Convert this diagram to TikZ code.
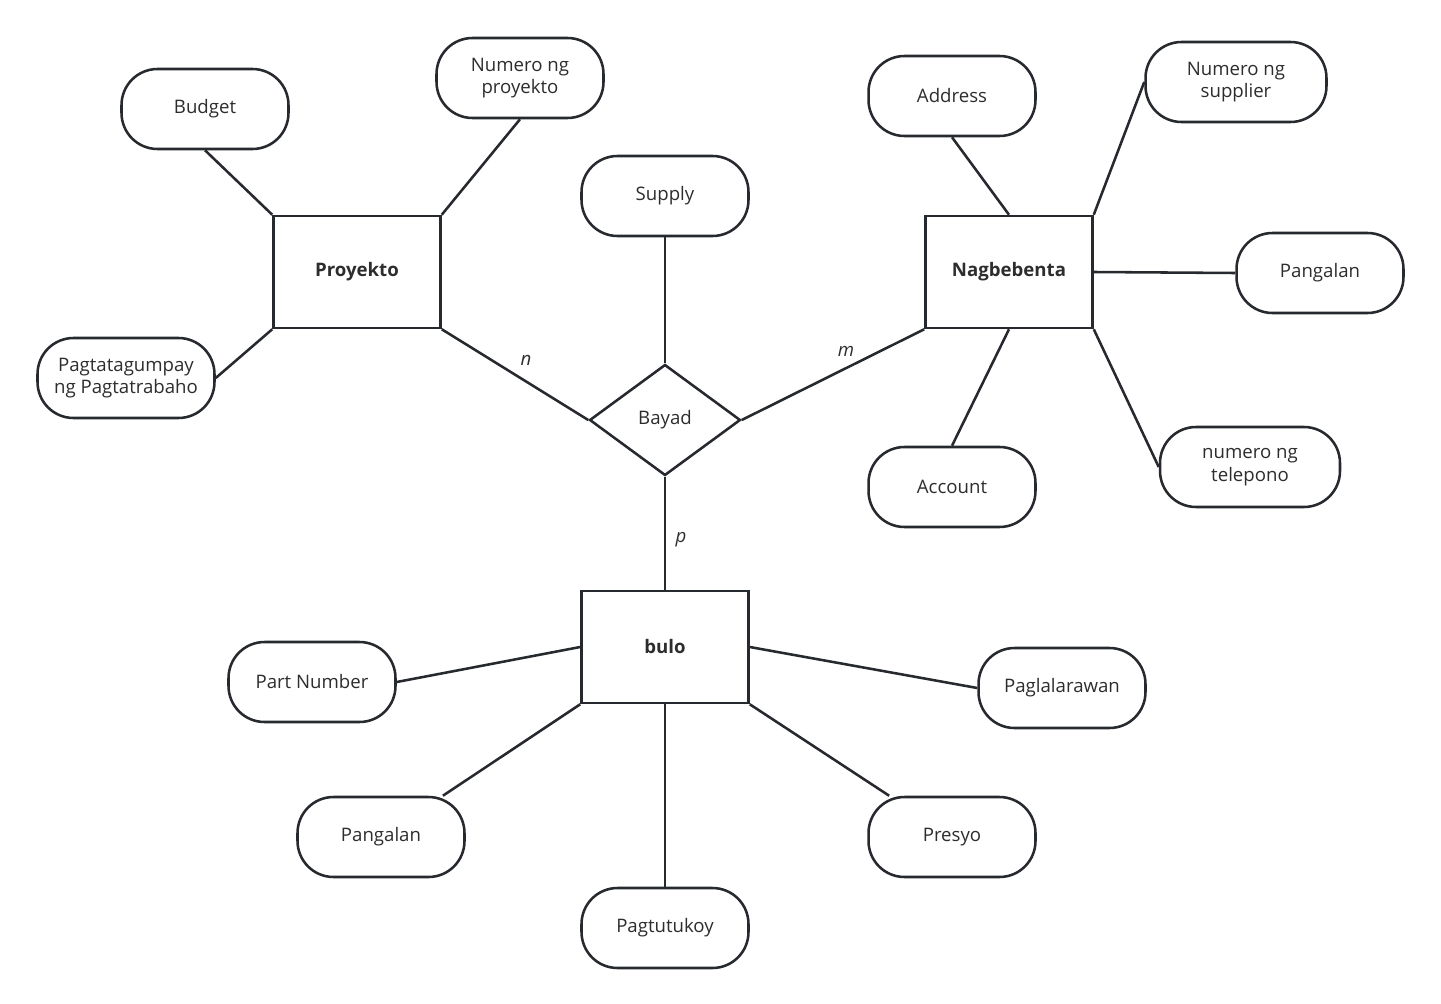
\documentclass[tikz,border=0pt]{standalone}
\usepackage{fontspec}
\setmainfont{Open Sans}
\usepackage{tikz}
\usetikzlibrary{shapes.geometric, positioning}
\definecolor{erline}{RGB}{38,41,45}
\definecolor{ertext}{RGB}{45,45,45}

\begin{document}
\begin{tikzpicture}[
  x=0.02cm, y=-0.02cm,
  every node/.style={font=\fontsize{10.6}{12.8}\selectfont, text=ertext},
  attr/.style={rectangle, draw=erline, line width=1.45pt, rounded corners=0.72cm,
               minimum width=3.34cm, minimum height=1.6cm, align=center, fill=white},
  wideattr/.style={attr, minimum width=3.6cm},
  entity/.style={rectangle, draw=erline, line width=1.45pt,
                 minimum width=3.34cm, minimum height=2.24cm, font=\fontsize{10.6}{12.8}\selectfont\bfseries},
  rel/.style={diamond, draw=erline, line width=1.45pt, aspect=1.36, inner sep=0pt,
              minimum width=3.02cm, minimum height=2.22cm},
  card/.style={font=\fontsize{10.6}{12.8}\selectfont\itshape},
  conn/.style={draw=erline, line width=1.45pt},
]
  \useasboundingbox (0,0) rectangle (1441,1004);

  % entities and relationship
  \node[entity] (proy) at (357,272) {Proyekto};
  \node[entity] (nagb) at (1009,272) {Nagbebenta};
  \node[entity] (bulo) at (665,647) {bulo};
  \node[rel] (bayad) at (665,420) {Bayad};

  % attributes of Proyekto
  \node[attr] (budget) at (205,109) {Budget};
  \node[attr] (numproy) at (520,78) {Numero ng\\proyekto};
  \node[wideattr, minimum width=3.54cm] (pagtat) at (126,378) {Pagtatagumpay\\ng Pagtatrabaho};
  \draw[conn] (budget.south) -- (proy.north west);
  \draw[conn] (numproy.south) -- (proy.north east);
  \draw[conn] (pagtat.east) -- (proy.south west);

  % attributes of Nagbebenta
  \node[attr] (address) at (952,96) {Address};
  \node[wideattr, minimum width=3.62cm] (numsup) at (1236,82) {Numero ng\\supplier};
  \node[attr] (pangn) at (1320,273) {Pangalan};
  \node[attr] (account) at (952,487) {Account};
  \node[wideattr] (numtel) at (1250,467) {numero ng\\telepono};
  \draw[conn] (address.south) -- (nagb.north);
  \draw[conn] (numsup.west) -- (nagb.north east);
  \draw[conn] (pangn.west) -- (nagb.east);
  \draw[conn] (account.north) -- (nagb.south);
  \draw[conn] (numtel.west) -- (nagb.south east);

  % attributes of bulo
  \node[attr] (partnum) at (312,682) {Part Number};
  \node[attr] (paglar) at (1062,688) {Paglalarawan};
  \node[attr] (pangb) at (381,837) {Pangalan};
  \node[attr] (presyo) at (952,837) {Presyo};
  \node[attr] (pagtut) at (665,928) {Pagtutukoy};
  \draw[conn] (partnum.east) -- (bulo.west);
  \draw[conn] (paglar.west) -- (bulo.east);
  \draw[conn] (bulo.south west) -- (pangb);
  \draw[conn] (bulo.south east) -- (presyo);
  \draw[conn] (pagtut.north) -- (bulo.south);

  % relationship links
  \node[attr] (supply) at (665,196) {Supply};
  \draw[conn] (supply.south) -- (bayad.north);
  \draw[conn] (proy.south east) -- (bayad.west);
  \draw[conn] (nagb.south west) -- (bayad.east);
  \draw[conn] (bayad.south) -- (bulo.north);
  \node[card] (cardn) at (526,360) {n};
  \node[card] (cardm) at (846,351) {m};
  \node[card] (cardp) at (681,540) {p};
\end{tikzpicture}
\end{document}
